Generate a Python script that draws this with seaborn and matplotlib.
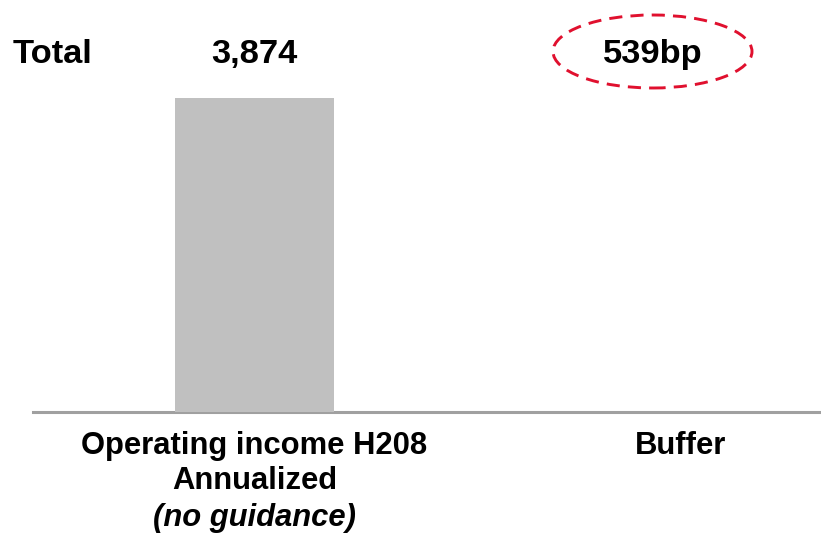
import matplotlib
matplotlib.use("Agg")
import matplotlib.pyplot as plt
from matplotlib.patches import Ellipse
import seaborn as sns

# Data
categories = ["Operating income H208\nAnnualized", "Buffer"]
values = [3874, 0]
bar_labels = ["3,874", ""]
row_title = "Total"
buffer_label = "539bp"
footnote = "(no guidance)"

sns.set_theme(style="white")
plt.rcParams["font.family"] = ["Liberation Sans", "DejaVu Sans"]

W, H = 821, 535
fig = plt.figure(figsize=(W / 100, H / 100), dpi=100)
ax = fig.add_axes([33 / W, (H - 412) / H, (W - 33) / W, 412 / H])

sns.barplot(x=categories, y=values, color="#C0C0C0", width=0.374,
            saturation=1, linewidth=0, ax=ax, zorder=3)

ax.set_xlim(-0.52, 1.331)
ax.set_ylim(0, values[0] * 412 / 314)
ax.set_xlabel("")
ax.set_ylabel("")
ax.set_yticks([])

for side in ["top", "left", "right"]:
    ax.spines[side].set_visible(False)
ax.spines["bottom"].set_color("#A0A0A0")
ax.spines["bottom"].set_linewidth(2.2)
ax.spines["bottom"].set_zorder(2)

ax.tick_params(axis="x", length=0, pad=14)
for lbl in ax.get_xticklabels():
    lbl.set_fontsize(22.3)
    lbl.set_fontweight("bold")
    lbl.set_color("black")
    lbl.set_linespacing(1.2)

# Italic third line under the first category
ax.annotate(footnote, xy=(0, 0), xycoords=("data", "axes fraction"),
            xytext=(0, -82), textcoords="offset points",
            ha="center", va="baseline", fontsize=22.3, fontweight="bold",
            fontstyle="italic", color="black")

# Header row
top_y = 1 - 63 / 412
ax.text(13 / W * W / (W - 33) - 33 / (W - 33), top_y, row_title,
        transform=ax.transAxes, ha="left", va="baseline",
        fontsize=24.8, fontweight="bold", color="black", clip_on=False)
for i, lab in enumerate(bar_labels):
    if lab:
        ax.text(i, top_y, lab, transform=ax.get_xaxis_transform(),
                ha="center", va="baseline", fontsize=24.8, fontweight="bold",
                color="black", clip_on=False)

# Buffer value with dashed red ellipse
bx = (652.5 - 33) / (W - 33)
ax.text(bx, top_y, buffer_label, transform=ax.transAxes, ha="center",
        va="baseline", fontsize=24.8, fontweight="bold", color="black",
        clip_on=False)
ell = Ellipse((bx, 1 - 51.5 / 412), width=199 / (W - 33), height=73 / 412,
              transform=ax.transAxes, fill=False, edgecolor="#E0102E",
              linewidth=2.1, linestyle=(0, (4.5, 2.8)), clip_on=False)
ax.add_patch(ell)

fig.savefig("out.png", dpi=100)
